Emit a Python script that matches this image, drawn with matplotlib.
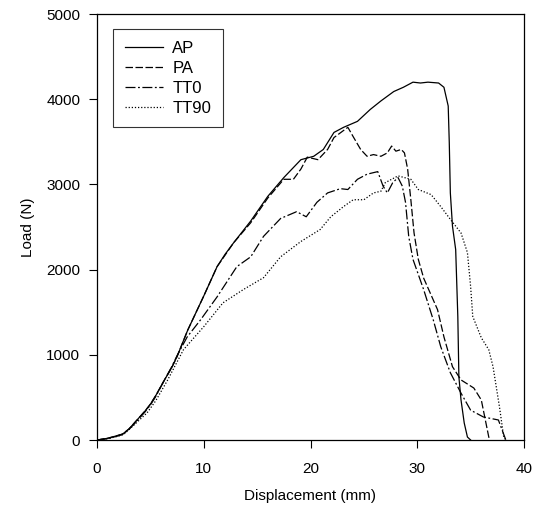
import matplotlib
matplotlib.use("Agg")
import matplotlib.pyplot as plt

plt.rcParams['font.family'] = ['Liberation Sans', 'DejaVu Sans']

# AP (solid)
ap_x = [0, 1, 2, 2.4, 3.0, 3.5, 4.0, 4.5, 5.0, 5.5, 6.3, 7.0, 7.5, 8.5, 10.0, 11.25, 12.0, 12.8, 14.4, 16.0,
        17.5, 19.1, 20.3, 21.2, 22.2, 23.1, 24.4, 25.6, 26.6, 27.8, 28.7, 29.6,
        30.3, 31.0, 32.0, 32.5, 32.9, 33.0, 33.1, 33.3, 33.6, 33.8, 33.9, 34.1,
        34.4, 34.7, 35.0]
ap_y = [0, 20, 55, 70, 130, 200, 270, 340, 420, 520, 700, 850, 980, 1290, 1690, 2035, 2180, 2315, 2570, 2860,
        3080, 3290, 3330, 3410, 3610, 3670, 3740, 3880, 3980, 4090, 4140, 4200,
        4190, 4200, 4190, 4140, 3920, 3490, 2900, 2510, 2235, 1450, 740, 470,
        200, 35, 0]

# PA (dashed)
pa_x = [0, 1, 2, 2.4, 3.0, 3.5, 4.0, 4.5, 5.0, 5.5, 6.3, 7.0, 7.5, 8.5, 10.0, 11.25, 12.0, 12.8, 14.4, 16.0,
        17.5, 18.4, 19.1, 19.7, 20.7, 21.6, 22.2, 23.5, 24.0, 24.7, 25.3, 25.9,
        26.6, 27.2, 27.6, 28.0, 28.5, 28.8, 29.1, 29.4, 29.7, 30.1, 30.6, 31.9,
        32.5, 33.3, 34.1, 35.3, 36.0, 36.7, 36.8]
pa_y = [0, 20, 55, 70, 130, 200, 270, 340, 420, 520, 700, 850, 980, 1290, 1690, 2035, 2170, 2315, 2550, 2840,
        3060, 3060, 3180, 3320, 3290, 3410, 3550, 3670, 3560, 3410, 3330, 3350,
        3330, 3370, 3450, 3390, 3410, 3370, 3180, 2820, 2430, 2120, 1900, 1530,
        1210, 860, 705, 610, 470, 35, 0]

# TT0 (dash-dot)
tt0_x = [0, 1, 2, 2.4, 3.0, 3.5, 4.0, 4.5, 5.0, 5.5, 6.3, 7.0, 7.5, 8.45, 9.7, 11.25, 13.1, 14.4, 15.6,
         17.2, 18.7, 19.6, 20.6, 21.6, 22.8, 23.5, 24.4, 25.3, 26.3, 26.8, 27.2,
         27.7, 28.2, 28.6, 28.9, 29.2, 29.6, 30.6, 31.5, 32.2, 33.1, 34.1, 35.0,
         36.2, 37.6, 38.3]
tt0_y = [0, 15, 50, 65, 125, 190, 260, 330, 410, 510, 700, 860, 990, 1210, 1410, 1680, 2035, 2150, 2390,
         2600, 2680, 2620, 2790, 2900, 2950, 2940, 3060, 3120, 3150, 2980, 2900,
         3020, 3080, 2980, 2790, 2390, 2120, 1765, 1410, 1095, 790, 550, 350,
         270, 235, 0]

# TT90 (dotted)
tt90_x = [0, 1, 2, 2.5, 3.5, 4.7, 5.5, 6.6, 8.1, 10.0, 11.8, 13.7, 15.6, 17.2, 19.1,
          20.9, 21.9, 23.1, 24.0, 25.0, 25.9, 26.6, 27.0, 28.2, 29.4, 30.1, 31.3,
          32.2, 33.1, 34.1, 34.7, 35.0, 35.2, 36.0, 36.7, 37.1, 37.7, 38.1, 38.3]
tt90_y = [0, 15, 45, 65, 180, 320, 460, 700, 1060, 1330, 1610, 1765, 1905, 2150, 2330,
          2470, 2620, 2740, 2820, 2820, 2900, 2920, 3020, 3100, 3060, 2940, 2880,
          2740, 2590, 2430, 2200, 1800, 1450, 1200, 1060, 860, 390, 35, 0]

x_ticks = [0, 10, 20, 30, 40]
y_ticks = [0, 1000, 2000, 3000, 4000, 5000]

fig = plt.figure(figsize=(5.36, 5.05), dpi=100)
ax = fig.add_axes([97/536, 65/505, 427/536, 426/505])

lw = 0.9
ax.plot(ap_x, ap_y, color='black', lw=lw, linestyle='-', label='AP')
ax.plot(pa_x, pa_y, color='black', lw=lw, linestyle=(0, (6, 2)), label='PA')
ax.plot(tt0_x, tt0_y, color='black', lw=lw, linestyle=(0, (8, 2, 1.5, 2)), label='TT0')
ax.plot(tt90_x, tt90_y, color='black', lw=lw, linestyle=(0, (1, 1.5)), label='TT90')

ax.set_xlim(0, 40)
ax.set_ylim(0, 5000)
ax.set_xticks(x_ticks)
ax.set_yticks(y_ticks)
ax.tick_params(direction='out', length=6, width=0.8, labelsize=11, colors='black')
ax.tick_params(axis='x', pad=10)
ax.tick_params(axis='y', pad=6)
for s in ax.spines.values():
    s.set_linewidth(0.9)
ax.set_xlabel('Displacement (mm)', fontsize=11, labelpad=9)
ax.set_ylabel('Load (N)', fontsize=11, labelpad=8)

leg = ax.legend(loc='upper left', bbox_to_anchor=(0.0375, 0.965), fontsize=12,
                frameon=True, fancybox=False, edgecolor='black', handlelength=2.3,
                handletextpad=0.55, labelspacing=0.3, borderpad=0.7,
                borderaxespad=0)
leg.get_frame().set_linewidth(0.8)

fig.savefig('out.png', dpi=100)
